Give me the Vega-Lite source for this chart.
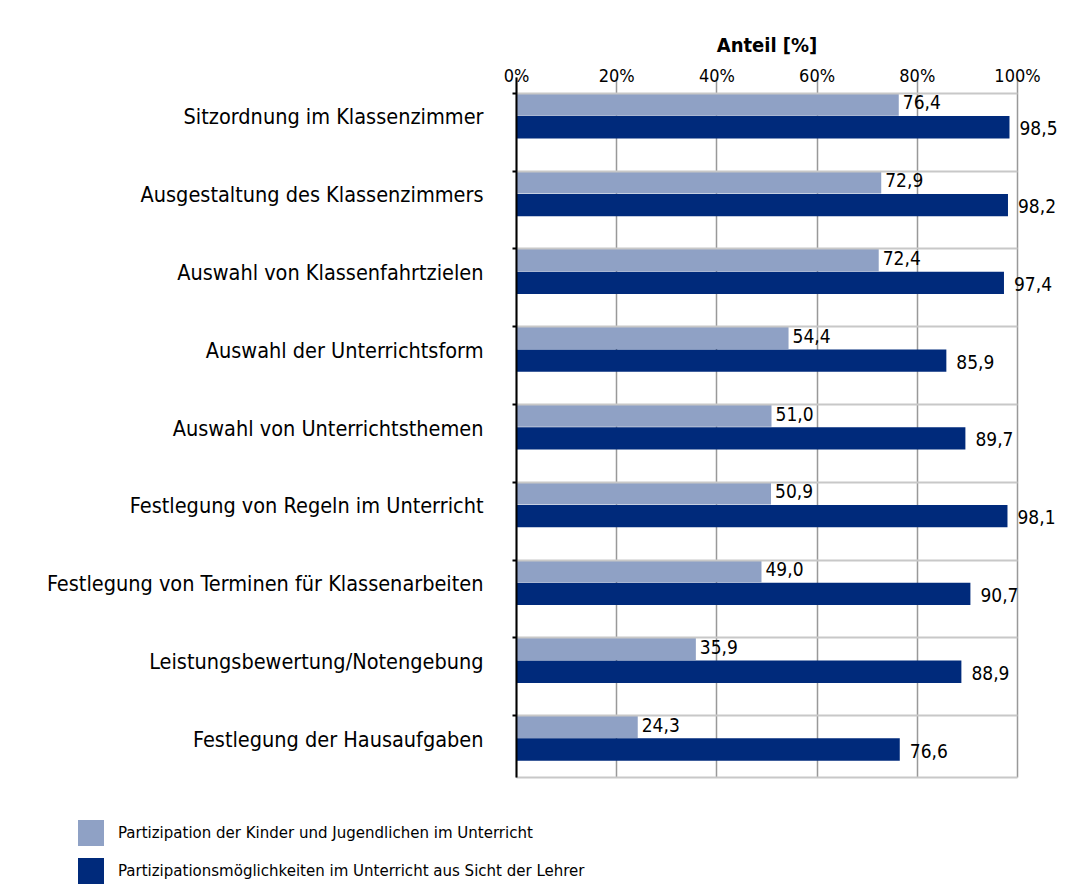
{
  "$schema": "https://vega.github.io/schema/vega-lite/v6.json",
  "autosize": "none",
  "width": 501,
  "height": 700,
  "padding": {"left": 516, "top": 77, "right": 57, "bottom": 112},
  "background": "white",
  "config": {
    "font": "DejaVu Sans Condensed, sans-serif",
    "view": {"stroke": null},
    "locale": {"number": {"decimal": ",", "thousands": ".", "grouping": [3], "currency": ["", " €"]}}
  },
  "data": {"values": [
    {"cat": "Sitzordnung im Klassenzimmer", "series": "Partizipation der Kinder und Jugendlichen im Unterricht", "value": 76.4},
    {"cat": "Sitzordnung im Klassenzimmer", "series": "Partizipationsmöglichkeiten im Unterricht aus Sicht der Lehrer", "value": 98.5},
    {"cat": "Ausgestaltung des Klassenzimmers", "series": "Partizipation der Kinder und Jugendlichen im Unterricht", "value": 72.9},
    {"cat": "Ausgestaltung des Klassenzimmers", "series": "Partizipationsmöglichkeiten im Unterricht aus Sicht der Lehrer", "value": 98.2},
    {"cat": "Auswahl von Klassenfahrtzielen", "series": "Partizipation der Kinder und Jugendlichen im Unterricht", "value": 72.4},
    {"cat": "Auswahl von Klassenfahrtzielen", "series": "Partizipationsmöglichkeiten im Unterricht aus Sicht der Lehrer", "value": 97.4},
    {"cat": "Auswahl der Unterrichtsform", "series": "Partizipation der Kinder und Jugendlichen im Unterricht", "value": 54.4},
    {"cat": "Auswahl der Unterrichtsform", "series": "Partizipationsmöglichkeiten im Unterricht aus Sicht der Lehrer", "value": 85.9},
    {"cat": "Auswahl von Unterrichtsthemen", "series": "Partizipation der Kinder und Jugendlichen im Unterricht", "value": 51.0},
    {"cat": "Auswahl von Unterrichtsthemen", "series": "Partizipationsmöglichkeiten im Unterricht aus Sicht der Lehrer", "value": 89.7},
    {"cat": "Festlegung von Regeln im Unterricht", "series": "Partizipation der Kinder und Jugendlichen im Unterricht", "value": 50.9},
    {"cat": "Festlegung von Regeln im Unterricht", "series": "Partizipationsmöglichkeiten im Unterricht aus Sicht der Lehrer", "value": 98.1},
    {"cat": "Festlegung von Terminen für Klassenarbeiten", "series": "Partizipation der Kinder und Jugendlichen im Unterricht", "value": 49.0},
    {"cat": "Festlegung von Terminen für Klassenarbeiten", "series": "Partizipationsmöglichkeiten im Unterricht aus Sicht der Lehrer", "value": 90.7},
    {"cat": "Leistungsbewertung/Notengebung", "series": "Partizipation der Kinder und Jugendlichen im Unterricht", "value": 35.9},
    {"cat": "Leistungsbewertung/Notengebung", "series": "Partizipationsmöglichkeiten im Unterricht aus Sicht der Lehrer", "value": 88.9},
    {"cat": "Festlegung der Hausaufgaben", "series": "Partizipation der Kinder und Jugendlichen im Unterricht", "value": 24.3},
    {"cat": "Festlegung der Hausaufgaben", "series": "Partizipationsmöglichkeiten im Unterricht aus Sicht der Lehrer", "value": 76.6}
  ]},
  "encoding": {
    "y": {
      "field": "cat", "type": "nominal", "sort": null,
      "scale": {"paddingInner": 0.42, "paddingOuter": 0.21},
      "axis": {
        "title": null, "bandPosition": 0, "labelOffset": 2.5, "zindex": 1,
        "labelFontSize": 21.5, "labelColor": "#000", "labelPadding": 29,
        "labelLimit": 500,
        "domainColor": "#000", "domainWidth": 2,
        "tickColor": "#000", "tickSize": 4, "tickWidth": 2,
        "grid": true, "gridColor": "#c8c8c8", "gridWidth": 2
      }
    },
    "yOffset": {"field": "series", "type": "nominal", "sort": null, "scale": {"paddingInner": 0.02}}
  },
  "layer": [
    {
      "mark": {"type": "bar"},
      "encoding": {
        "x": {
          "field": "value", "type": "quantitative",
          "scale": {"domain": [0, 100], "nice": false},
          "axis": {
            "orient": "top", "values": [0, 20, 40, 60, 80, 100],
            "labelExpr": "datum.value + '%'",
            "title": "Anteil [%]", "titleFontSize": 20, "titleFontWeight": "bold", "titleColor": "#000",
            "titlePadding": 12,
            "labelFontSize": 18, "labelColor": "#000", "labelPadding": -8, "labelFlush": false,
            "ticks": false, "tickSize": 0, "domain": false,
            "grid": true, "gridColor": "#999", "gridWidth": 1.5
          }
        },
        "color": {
          "field": "series", "type": "nominal", "sort": null,
          "scale": {"range": ["#8fa1c5", "#002a7b"]},
          "legend": {
            "title": null, "orient": "none", "legendX": -438, "legendY": 743,
            "direction": "vertical",
            "symbolType": "square", "symbolSize": 676, "symbolStrokeWidth": 0, "symbolOpacity": 1,
            "rowPadding": 12, "labelFontSize": 16.7, "labelColor": "#000", "labelOffset": 14, "labelLimit": 600
          }
        }
      }
    },
    {
      "transform": [{"filter": "datum.series === 'Partizipation der Kinder und Jugendlichen im Unterricht'"}],
      "mark": {"type": "text", "align": "left", "baseline": "middle", "dx": 4, "dy": -1, "fontSize": 19, "color": "#000"},
      "encoding": {
        "x": {"field": "value", "type": "quantitative", "axis": null},
        "text": {"field": "value", "type": "quantitative", "format": ".1f"}
      }
    },
    {
      "transform": [{"filter": "datum.series !== 'Partizipation der Kinder und Jugendlichen im Unterricht'"}],
      "mark": {"type": "text", "align": "left", "baseline": "middle", "dx": 10, "dy": 2, "fontSize": 19, "color": "#000"},
      "encoding": {
        "x": {"field": "value", "type": "quantitative", "axis": null},
        "text": {"field": "value", "type": "quantitative", "format": ".1f"}
      }
    },
    {
      "mark": {"type": "rule", "opacity": 0},
      "encoding": {
        "x": {
          "datum": 0, "type": "quantitative",
          "axis": {"orient": "bottom", "labels": false, "ticks": false, "grid": false, "title": null, "domain": true, "domainColor": "#c8c8c8", "domainWidth": 2}
        }
      }
    }
  ],
  "resolve": {"axis": {"x": "independent"}}
}
